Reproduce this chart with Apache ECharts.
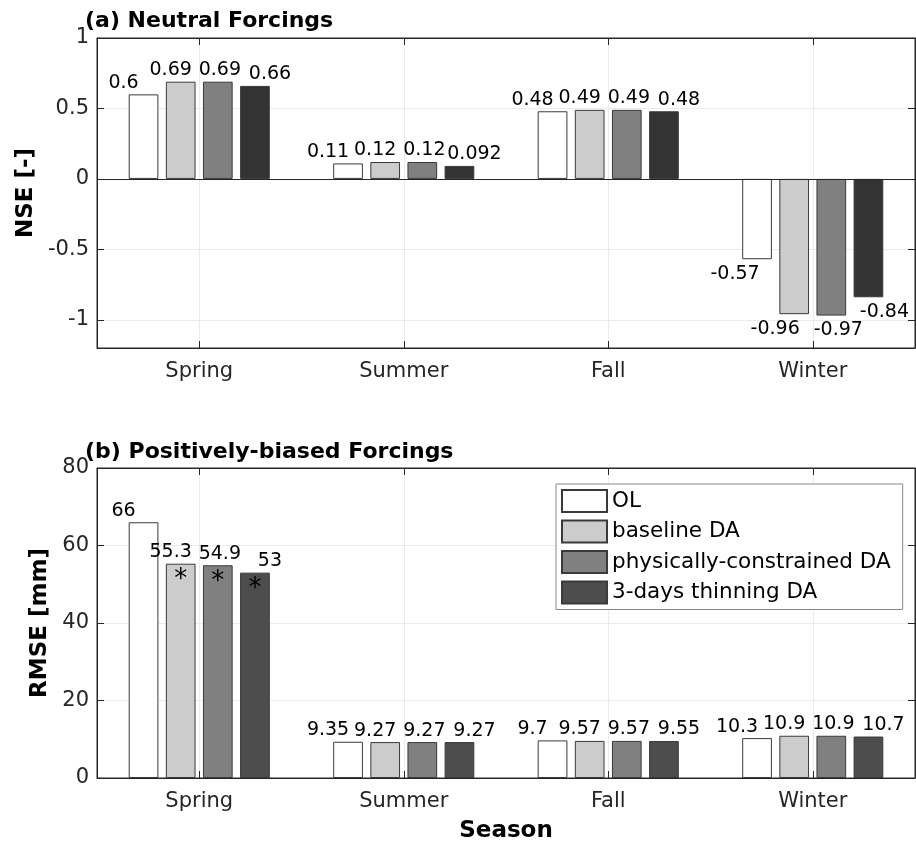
<!DOCTYPE html>
<html>
<head>
<meta charset="utf-8">
<script src="https://cdn.jsdelivr.net/npm/echarts@6/dist/echarts.min.js"></script>
<style>
html,body{margin:0;padding:0;background:#fff;}
#chart{width:916px;height:848px;}
</style>
</head>
<body>
<div id="chart"></div>
<script>
// ---------- data ----------
const seasons = ['Spring', 'Summer', 'Fall', 'Winter'];
const seriesNames = ['OL', 'baseline DA', 'physically-constrained DA', '3-days thinning DA'];

// (a) Neutral forcings: NSE [-]
const nseOL        = [0.6, 0.11, 0.48, -0.57];
const nseBaseline  = [0.69, 0.12, 0.49, -0.96];
const nsePhysical  = [0.69, 0.12, 0.49, -0.97];
const nseThinning  = [0.66, 0.092, 0.48, -0.84];
const nseTicks     = [-1, -0.5, 0, 0.5, 1];

// (b) Positively-biased forcings: RMSE [mm]
const rmseOL       = [66, 9.35, 9.7, 10.3];
const rmseBaseline = [55.3, 9.27, 9.57, 10.9];
const rmsePhysical = [54.9, 9.27, 9.57, 10.9];
const rmseThinning = [53, 9.27, 9.55, 10.7];
const rmseTicks    = [0, 20, 40, 60, 80];

// significance markers (*) in panel (b)
const sigOL        = [false, false, false, false];
const sigBaseline  = [true, false, false, false];
const sigPhysical  = [true, false, false, false];
const sigThinning  = [true, false, false, false];

// ---------- styles ----------
const FONT = 'DejaVu Sans';
const AX = '#262626';
const colorsTop = ['#ffffff', '#cccccc', '#808080', '#333333'];
const colorsBot = ['#ffffff', '#cccccc', '#808080', '#4d4d4d'];
const labelShiftPos = [-20, -10, 2, 15];
const labelShiftNeg = [-22, -19, 7, 16];

const grids = [
  {left: 97, top: 38, width: 818, height: 310, show: true, borderColor: AX, borderWidth: 1, backgroundColor: '#fff'},
  {left: 97, top: 468, width: 818, height: 310, show: true, borderColor: AX, borderWidth: 1, backgroundColor: '#fff'}
];

function catAxis(gridIndex, position, withLabels, name) {
  return {
    type: 'category', data: seasons, gridIndex: gridIndex, position: position,
    axisLine: {show: true, onZero: false, lineStyle: {color: AX, width: 1}},
    axisTick: {show: true, inside: true, length: 7, alignWithLabel: true, lineStyle: {color: AX}},
    axisLabel: {show: withLabels, fontFamily: FONT, fontSize: 21, color: AX, margin: 13},
    splitLine: {show: position === 'bottom', alignWithLabel: true, lineStyle: {color: '#ebebeb', width: 1}},
    name: name || '', nameLocation: 'middle', nameGap: 42,
    nameTextStyle: {fontFamily: FONT, fontSize: 23, fontWeight: 'bold', color: '#000'}
  };
}

function valAxis(gridIndex, position, min, max, ticks, withLabels, name, nameGap) {
  return {
    type: 'value', gridIndex: gridIndex, position: position, min: min, max: max,
    axisLine: {show: true, lineStyle: {color: AX, width: 1}},
    axisTick: {show: true, inside: true, length: 7, customValues: ticks, lineStyle: {color: AX}},
    axisLabel: {show: withLabels, customValues: ticks, fontFamily: FONT, fontSize: 21, color: AX, margin: 8},
    splitLine: {show: position === 'left', lineStyle: {color: '#ebebeb', width: 1}},
    name: name || '', nameLocation: 'middle', nameGap: nameGap || 40, nameRotate: 90,
    nameTextStyle: {fontFamily: FONT, fontSize: 23, fontWeight: 'bold', color: '#000'}
  };
}

function barData(values, idx) {
  return values.map(v => ({
    value: v,
    label: v < 0
      ? {position: 'bottom', distance: 5, offset: [labelShiftNeg[idx], 0]}
      : {position: 'top', distance: 2, offset: [labelShiftPos[idx], 0]}
  }));
}

function makeBar(idx, values, xi, yi, colors, sig) {
  const s = {
    name: seriesNames[idx], type: 'bar', xAxisIndex: xi, yAxisIndex: yi,
    data: barData(values, idx),
    barCategoryGap: '31%', barGap: '25%',
    itemStyle: {color: colors[idx], borderColor: '#3a3a3a', borderWidth: 1},
    label: {show: true, fontFamily: FONT, fontSize: 19, color: '#000'},
    emphasis: {disabled: true},
    animation: false
  };
  if (sig) {
    const pts = [];
    sig.forEach((f, i) => { if (f) pts.push({coord: [seasons[i], values[i]]}); });
    if (pts.length) {
      s.markPoint = {
        symbol: 'circle', symbolSize: 1,
        itemStyle: {color: 'rgba(0,0,0,0)'},
        label: {show: true, formatter: '*', position: 'inside', fontFamily: FONT, fontSize: 26, color: '#000', offset: [0, 17]},
        data: pts, animation: false
      };
    }
  }
  return s;
}

const series = [
  // panel (b) first so the legend picks its styling
  makeBar(0, rmseOL, 2, 2, colorsBot, sigOL),
  makeBar(1, rmseBaseline, 2, 2, colorsBot, sigBaseline),
  makeBar(2, rmsePhysical, 2, 2, colorsBot, sigPhysical),
  makeBar(3, rmseThinning, 2, 2, colorsBot, sigThinning),
  // panel (a)
  makeBar(0, nseOL, 0, 0, colorsTop, null),
  makeBar(1, nseBaseline, 0, 0, colorsTop, null),
  makeBar(2, nsePhysical, 0, 0, colorsTop, null),
  makeBar(3, nseThinning, 0, 0, colorsTop, null)
];
// zero baseline in panel (a)
series[4].markLine = {
  silent: true, symbol: 'none', label: {show: false},
  lineStyle: {color: AX, width: 1, type: 'solid'},
  data: [{yAxis: 0}], animation: false
};

const option = {
  backgroundColor: '#fff',
  animation: false,
  title: [
    {text: '(a) Neutral Forcings', left: 85, top: 10, padding: 0,
     textStyle: {fontFamily: FONT, fontSize: 22, fontWeight: 'bold', color: '#000'}},
    {text: '(b) Positively-biased Forcings', left: 85, top: 441, padding: 0,
     textStyle: {fontFamily: FONT, fontSize: 22, fontWeight: 'bold', color: '#000'}}
  ],
  legend: {
    data: seriesNames, orient: 'vertical', left: 556, top: 484,
    icon: 'rect',
    itemWidth: 45, itemHeight: 22, itemGap: 6.5,
    padding: [5, 12, 5, 5],
    borderColor: '#888', borderWidth: 1, backgroundColor: '#fff',
    selectedMode: false,
    textStyle: {fontFamily: FONT, fontSize: 21.5, lineHeight: 22, color: '#000'}
  },
  grid: grids,
  xAxis: [
    catAxis(0, 'bottom', true),
    catAxis(0, 'top', false),
    catAxis(1, 'bottom', true, 'Season'),
    catAxis(1, 'top', false)
  ],
  yAxis: [
    valAxis(0, 'left', -1.2, 1, nseTicks, true, 'NSE [-]', 55),
    valAxis(0, 'right', -1.2, 1, nseTicks, false),
    valAxis(1, 'left', 0, 80, rmseTicks, true, 'RMSE [mm]', 42),
    valAxis(1, 'right', 0, 80, rmseTicks, false)
  ],
  series: series
};

const chart = echarts.init(document.getElementById('chart'), null, {renderer: 'canvas'});
chart.setOption(option);
</script>
</body>
</html>
